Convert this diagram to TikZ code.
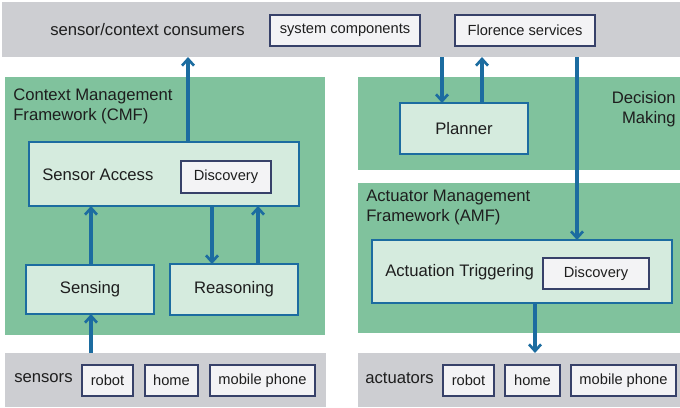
\documentclass[tikz,border=0pt]{standalone}
\usepackage{fontspec}
\setmainfont{Liberation Sans}
\usetikzlibrary{arrows.meta}
\definecolor{bandgrey}{RGB}{205,206,210}
\definecolor{framegreen}{RGB}{128,194,157}
\definecolor{modfill}{RGB}{213,235,222}
\definecolor{modline}{RGB}{28,108,160}
\definecolor{tagfill}{RGB}{243,243,245}
\definecolor{tagline}{RGB}{55,65,105}
\definecolor{txt}{RGB}{30,30,30}
\tikzset{
  band/.style={fill=bandgrey, draw=none},
  frame/.style={fill=framegreen, draw=none},
  module/.style={fill=modfill, draw=modline, line width=1.9pt, text=txt, font=\fontsize{12.5}{15}\selectfont},
  tag/.style={fill=tagfill, draw=tagline, line width=1.1pt, text=txt, font=\fontsize{11}{13}\selectfont},
  label/.style={text=txt, font=\fontsize{12.5}{15}\selectfont, inner sep=0pt},
  flow/.style={draw=modline, line width=2.4pt, -{Straight Barb[length=5pt,width=9pt,line width=2pt]}},
}
% box from (x1,y1) to (x2,y2) in pixel units
\newcommand\pbox[7]{%
  \node[#2, anchor=north west, inner sep=0pt, outer sep=0pt,
        minimum width={(#5-#3)*0.75pt}, minimum height={(#6-#4)*0.75pt}]
        (#1) at (#3,#4) {#7};}
\begin{document}
\begin{tikzpicture}[x=0.75pt, y=-0.75pt]
\useasboundingbox (0,0) rectangle (680,407);

% bands and frameworks
\pbox{top}{band}{2}{2}{680}{57}{}
\pbox{cmf}{frame}{5}{77}{325}{335}{}
\pbox{dm}{frame}{358}{77}{680}{170}{}
\pbox{amf}{frame}{358}{183}{680}{333}{}
\pbox{sens}{band}{5}{353}{326}{407}{}
\pbox{act}{band}{358}{353}{680}{407}{}

% consumers
\node[label, anchor=west] (consumers) at (50,30) {sensor/context consumers};
\pbox{syscomp}{tag}{270}{15}{420}{46}{system components}
\pbox{florence}{tag}{455}{15}{595}{46}{Florence services}

% CMF
\node[label, anchor=north west, align=left] (cmftitle) at (13,89) {Context Management\\Framework (CMF)};
\pbox{sa}{module}{29}{142}{299}{206}{}
\node[label, anchor=west] (satext) at (42,175) {Sensor Access};
\pbox{disc1}{tag}{181}{161}{271}{193}{Discovery}
\pbox{sensing}{module}{26}{265}{154}{314}{Sensing}
\pbox{reasoning}{module}{170}{264}{298}{315}{Reasoning}

% decision making
\node[label, anchor=north east, align=right] (dmtitle) at (676,91) {Decision\\Making};
\pbox{planner}{module}{400}{103}{528}{154}{Planner}

% AMF
\node[label, anchor=north west, align=left] (amftitle) at (366,190) {Actuator Management\\Framework (AMF)};
\pbox{at}{module}{372}{240}{672}{303}{}
\node[label, anchor=west] (attext) at (385,272) {Actuation Triggering};
\pbox{disc2}{tag}{543}{258}{649}{289}{Discovery}

% sensors
\node[label, anchor=west] (senstext) at (14,378) {sensors};
\pbox{srobot}{tag}{82}{365}{133}{396}{robot}
\pbox{shome}{tag}{145}{365}{198}{396}{home}
\pbox{sphone}{tag}{210}{365}{315}{396}{mobile phone}

% actuators
\node[label, anchor=west] (acttext) at (365,378) {actuators};
\pbox{arobot}{tag}{443}{365}{494}{396}{robot}
\pbox{ahome}{tag}{505}{365}{560}{396}{home}
\pbox{aphone}{tag}{571}{365}{676}{396}{mobile phone}

% connector columns
\coordinate (c1) at (188,0);
\coordinate (c2) at (91,0);
\coordinate (c3) at (212,0);
\coordinate (c4) at (258,0);
\coordinate (c5) at (442,0);
\coordinate (c6) at (482,0);
\coordinate (c7) at (577,0);
\coordinate (c8) at (535,0);

% connectors
\draw[flow] (sa.north -| c1) -- (top.south -| c1);
\draw[flow] (sens.north -| c2) -- (sensing.south -| c2);
\draw[flow] (sensing.north -| c2) -- (sa.south -| c2);
\draw[flow] (sa.south -| c3) -- (reasoning.north -| c3);
\draw[flow] (reasoning.north -| c4) -- (sa.south -| c4);
\draw[flow] (top.south -| c5) -- (planner.north -| c5);
\draw[flow] (planner.north -| c6) -- (top.south -| c6);
\draw[flow] (top.south -| c7) -- (at.north -| c7);
\draw[flow] (at.south -| c8) -- (act.north -| c8);
\end{tikzpicture}
\end{document}
